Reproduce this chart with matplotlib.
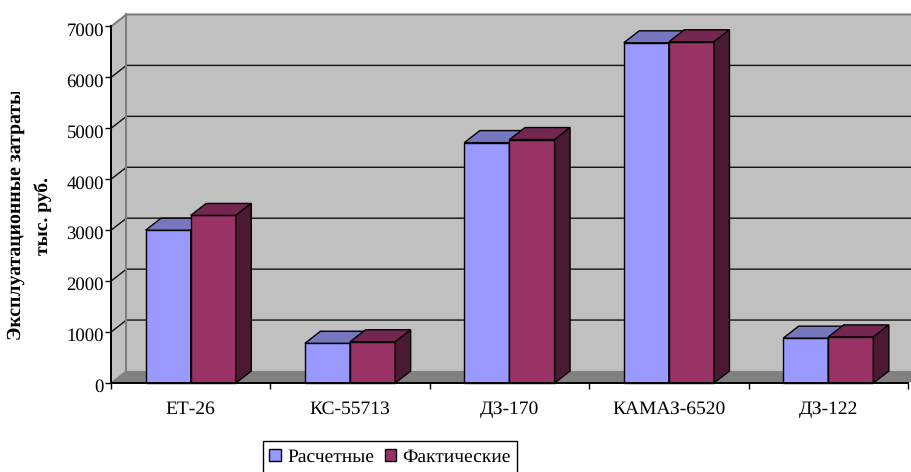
import matplotlib
matplotlib.use('Agg')
import matplotlib.pyplot as plt
from matplotlib.patches import Polygon, Patch, Rectangle
from matplotlib.transforms import ScaledTranslation

plt.rcParams['font.family'] = ['Liberation Serif', 'DejaVu Serif']
plt.rcParams['text.hinting'] = 'no_hinting'

categories = ['ЕТ-26', 'КС-55713', 'ДЗ-170', 'КАМАЗ-6520', 'ДЗ-122']
calculated = [3000, 780, 4720, 6680, 880]
actual = [3290, 810, 4780, 6700, 905]
y_ticks = [0, 1000, 2000, 3000, 4000, 5000, 6000, 7000]
series_names = ['Расчетные', 'Фактические']

W, H = 912, 472
fig = plt.figure(figsize=(W / 100, H / 100), dpi=100, facecolor='white')
ax = fig.add_axes([111 / W, 1 - 383 / H, 797 / W, 356.5 / H])
ax.set_xlim(0, 5)
ax.set_ylim(0, 7000)
ax.patch.set_visible(False)

# 3D depth in data units
dx = 0.097
dy = 236
bar_w = 0.283

# walls and floor
wall = '#C0C0C0'
ax.add_patch(Polygon([(dx, dy), (5.2, dy), (5.2, 7000 + dy), (dx, 7000 + dy)], fc=wall, ec='none', clip_on=False, zorder=1))
ax.add_patch(Polygon([(0, 0), (dx, dy), (dx, 7000 + dy), (0, 7000)], fc=wall, ec='none', clip_on=False, zorder=1))
ax.add_patch(Polygon([(0, 0), (dx, dy), (5.2, dy), (5, 0)], fc='#808080', ec='none', clip_on=False, zorder=1))

# gridlines on the back and side walls
for t in y_ticks[1:-1]:
    ax.plot([0, dx, 5.2], [t, t + dy, t + dy], color='#111111', lw=1.0, clip_on=False, zorder=2)
ax.plot([0, dx, 5.2], [7000, 7000 + dy, 7000 + dy], color='#808080', lw=1.5, clip_on=False, zorder=2)
ax.plot([dx, dx], [dy, 7000 + dy], color='#808080', lw=1.5, clip_on=False, zorder=2)
ax.plot([0, dx], [0, dy], color='#808080', lw=1.0, clip_on=False, zorder=2)


def draw_bar(left, value, front, top, side, z):
    right = left + bar_w
    ax.bar(left, value, bar_w, align='edge', color=front, edgecolor='black', linewidth=1.0, zorder=z, clip_on=False)
    ax.add_patch(Polygon([(left, value), (left + dx, value + dy), (right + dx, value + dy), (right, value)],
                         fc=top, ec='black', lw=1.0, clip_on=False, zorder=z))
    ax.add_patch(Polygon([(right, 0), (right + dx, dy), (right + dx, value + dy), (right, value)],
                         fc=side, ec='black', lw=1.0, clip_on=False, zorder=z))


for i in range(len(categories)):
    center = i + 0.5
    draw_bar(center - bar_w, calculated[i], '#9999FF', '#7777BF', '#4D4D80', 3 + i * 0.1)
    draw_bar(center, actual[i], '#993366', '#732650', '#4C1933', 3.05 + i * 0.1)

# axes
for name in ['top', 'right']:
    ax.spines[name].set_visible(False)
for name in ['left', 'bottom']:
    ax.spines[name].set_linewidth(1.4)
    ax.spines[name].set_zorder(6)
ax.set_yticks(y_ticks)
ax.set_xticks(range(6))
ax.set_xticks([i + 0.5 for i in range(5)], categories, minor=True)
ax.set_xticklabels([])
ax.tick_params(axis='x', which='major', length=4, width=1.0)
ax.tick_params(axis='x', which='minor', length=0, pad=13, labelsize=14)
ax.tick_params(axis='y', length=4, width=1.0, pad=1, labelsize=13.5)

# value labels sit a little below their ticks
for lab in ax.get_yticklabels():
    lab.set_transform(lab.get_transform() + ScaledTranslation(0, -2.5 / 100, fig.dpi_scale_trans))

# axis title; the first line runs past its box and gets cut off
line1 = fig.text(16 / W, 1 - 212 / H, 'Эксплуатационные затраты,', rotation=90, ha='center', va='center',
                 fontsize=14.2, fontweight='bold')
line1.set_clip_path(Rectangle((0, 1 - 345 / H), 60 / W, 253 / H, transform=fig.transFigure))
fig.text(43 / W, 1 - 216 / H, 'тыс. руб.', rotation=90, ha='center', va='center', fontsize=14, fontweight='bold')

# legend, its box runs off the bottom edge
fig.add_artist(Rectangle((263 / W, 1 - 475 / H), 254 / W, 34 / H, transform=fig.transFigure,
                         fc='white', ec='black', lw=1.0))
handles = [Patch(fc='#9999FF', ec='black', lw=1.0), Patch(fc='#993366', ec='black', lw=1.0)]
leg = fig.legend(handles, series_names, ncol=2, loc='center', bbox_to_anchor=(390 / W, 1 - 457 / H),
                 fontsize=14, frameon=False, borderpad=0, handlelength=0.6, handleheight=0.6,
                 handletextpad=0.3, columnspacing=0.55, borderaxespad=0)

fig.savefig('out.png', dpi=100, facecolor='white')
